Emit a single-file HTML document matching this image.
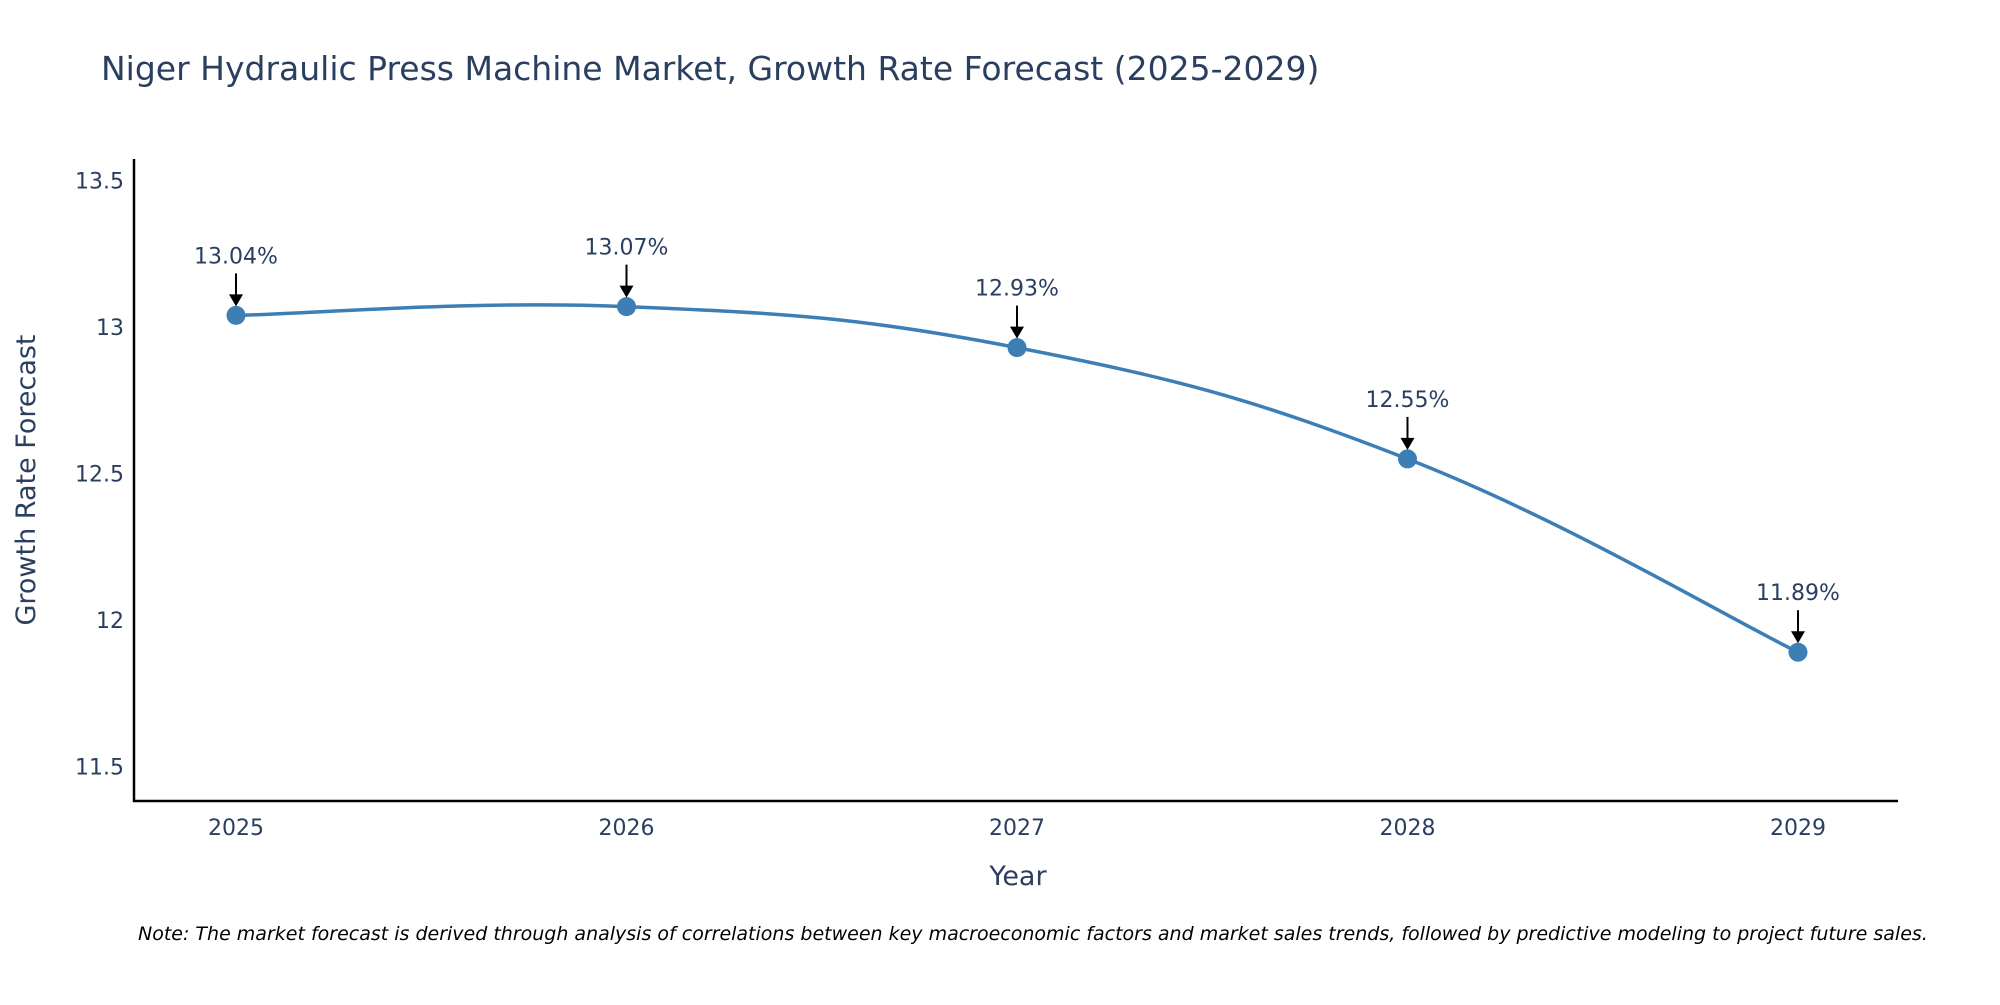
<!DOCTYPE html>
<html><head><meta charset="utf-8"><style>
body{margin:0;background:#fff;}
svg text{font-family:"DejaVu Sans","Liberation Sans",sans-serif;}
</style></head><body>
<svg id="chart" width="2000" height="1000" xmlns="http://www.w3.org/2000/svg">
<text x="101" y="80" font-size="33" fill="#2a3f5f">Niger Hydraulic Press Machine Market, Growth Rate Forecast (2025-2029)</text>
<g id="axes"></g>
<g id="marks"></g>
<text transform="translate(35,480) rotate(-90)" text-anchor="middle" font-size="27" fill="#2a3f5f">Growth Rate Forecast</text>
<text x="1018" y="885" text-anchor="middle" font-size="27" fill="#2a3f5f">Year</text>
<text x="138" y="940" font-size="19" font-style="italic" fill="#000">Note: The market forecast is derived through analysis of correlations between key macroeconomic factors and market sales trends, followed by predictive modeling to project future sales.</text>
</svg>
<script>
const years = ["2025","2026","2027","2028","2029"];
const values = [13.04, 13.07, 12.93, 12.55, 11.89];
const labels = ["13.04%","13.07%","12.93%","12.55%","11.89%"];
const yTicks = [11.5, 12, 12.5, 13, 13.5];
const yTickLabels = ["11.5","12","12.5","13","13.5"];

const NS="http://www.w3.org/2000/svg";
const x0=236, dx=390.5, yMin=11.382, yMax=13.574, pTop=159, pBot=801;
function xs(i){return x0+i*dx;}
function ys(v){return pBot-(v-yMin)/(yMax-yMin)*(pBot-pTop);}
function mk(tag,attrs,parent){const e=document.createElementNS(NS,tag);for(const k in attrs)e.setAttribute(k,attrs[k]);parent.appendChild(e);return e;}
const axes=document.getElementById('axes'), marks=document.getElementById('marks');
let e;
e=mk('line',{x1:134,y1:pTop,x2:134,y2:pBot+1,stroke:'#000','stroke-width':2.5},axes);


e=mk('line',{x1:133,y1:pBot,x2:1898,y2:pBot,stroke:'#000','stroke-width':2.5},axes);


yTicks.forEach((t,i)=>{
  const el=mk('text',{x:124,y:ys(t)+8,'text-anchor':'end','font-size':22,fill:'#2a3f5f'},axes);
  el.textContent=yTickLabels[i];
  
  
});
years.forEach((y,i)=>{
  const el=mk('text',{x:xs(i),y:835,'text-anchor':'middle','font-size':22,fill:'#2a3f5f'},axes);
  el.textContent=y;
  
  
});
const pts=values.map((v,i)=>[xs(i),ys(v)]);
let d=`M${pts[0][0]},${pts[0][1]}`;
const s=0.2;
for(let i=0;i<pts.length-1;i++){
  const p0=pts[Math.max(0,i-1)],p1=pts[i],p2=pts[i+1],p3=pts[Math.min(pts.length-1,i+2)];
  const c1=[p1[0]+(p2[0]-p0[0])*s,p1[1]+(p2[1]-p0[1])*s];
  const c2=[p2[0]-(p3[0]-p1[0])*s,p2[1]-(p3[1]-p1[1])*s];
  d+=` C${c1[0]},${c1[1]} ${c2[0]},${c2[1]} ${p2[0]},${p2[1]}`;
}
e=mk('path',{d:d,fill:'none',stroke:'#3d7fb5','stroke-width':3.5},marks);


pts.forEach((p,i)=>{
  const c=mk('circle',{cx:p[0],cy:p[1],r:9.5,fill:'#3d7fb5'},marks);
  
  
  const a=mk('line',{x1:p[0],y1:p[1]-42,x2:p[0],y2:p[1]-20,stroke:'#000','stroke-width':2},marks);
  
  
  const h=mk('path',{d:`M${p[0]-7},${p[1]-21} L${p[0]+7},${p[1]-21} L${p[0]},${p[1]-9} Z`,fill:'#000'},marks);
  
  
  const t=mk('text',{x:p[0],y:p[1]-52,'text-anchor':'middle','font-size':22,fill:'#2a3f5f'},marks);
  t.textContent=labels[i];
  
  
});
</script>
</body></html>
